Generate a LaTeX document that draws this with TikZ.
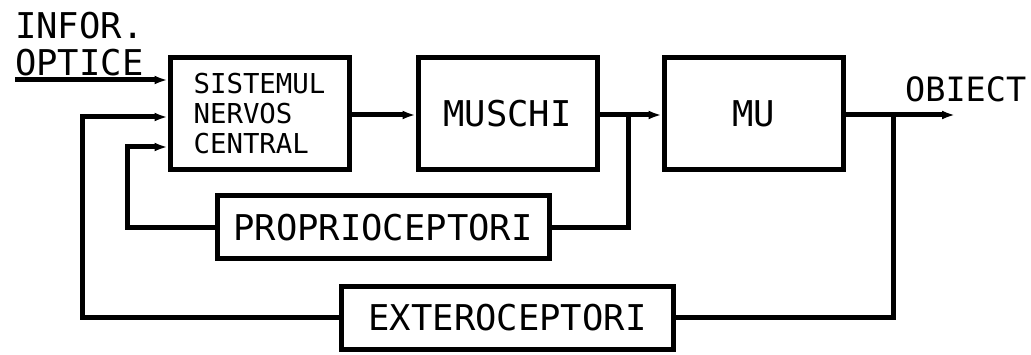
\documentclass[tikz,border=0pt]{standalone}
\usepackage{fontspec}
\newfontfamily\diagfont{DejaVu Sans Mono}
\newcommand{\bigtxt}{\diagfont\fontsize{35.5}{37}\selectfont}
\newcommand{\smalltxt}{\diagfont\fontsize{27.4}{30}\selectfont}
\usetikzlibrary{positioning, arrows.meta, calc}

\begin{document}
\begin{tikzpicture}
    [
        x=1pt, y=-1pt,
        on grid,
        node distance=248pt,
        block/.style={draw, rectangle, line width=5pt, minimum width=179pt, minimum height=112pt, inner sep=0pt, font=\bigtxt},
        sensor/.style={draw, rectangle, line width=5pt, minimum width=332pt, minimum height=63pt, inner sep=0pt, font=\bigtxt},
        tag/.style={inner sep=0pt, font=\bigtxt, align=left},
        link/.style={line width=5pt},
        flow/.style={line width=5pt, -{Latex[length=13pt, width=9pt]}}
    ]
        \useasboundingbox (0,0) rectangle (1031,355);
        % =========================================================================
        % NODES
        % =========================================================================
        % --- Main row ---
        \node [block, font=\smalltxt, align=left] (snc) at (259.5,114) {SISTEMUL\\NERVOS\\CENTRAL};
        \node [block, right=of snc] (muschi) {MUSCHI};
        \node [block, right=246pt of muschi] (mu) {MU};
        % --- Feedback row ---
        \node [sensor] (proprio) at (383,227.5) {PROPRIOCEPTORI};
        \node [sensor, below=204pt of muschi] (extero) {EXTEROCEPTORI};
        % --- Texts and free ends ---
        \node [tag, anchor=south west] (info) at (15,76) {INFOR.\\OPTICE};
        \coordinate (inp) at (15,80);
        \coordinate (out) at (955,115);
        \node [tag, anchor=base west, font=\diagfont\fontsize{33.5}{35}\selectfont] (obiect) at (905,102) {OBIECT};
        % --- Branch points and corners ---
        \coordinate (j1) at (628,115);
        \coordinate (j2) at (893,115);
        \coordinate (fbOuter) at (82,117);
        \coordinate (fbInner) at (127,147);

        % =========================================================================
        % PATHS
        % =========================================================================
        % --- FORWARD ---
        \draw [flow] (inp) -- (inp -| snc.west);
        \draw [flow] (snc.east |- j1) -- (muschi.west |- j1);
        \draw [flow] (muschi.east |- j1) -- (mu.west |- j1);
        \draw [flow] (mu.east |- j2) -- (out);
        % --- FEEDBACK ---
        \draw [link] (j1) |- (proprio.east);
        \draw [flow] (proprio.west) -| (fbInner) -- (fbInner -| snc.west);
        \draw [link] (j2) |- (extero.east);
        \draw [flow] (extero.west) -| (fbOuter) -- (fbOuter -| snc.west);

    \end{tikzpicture}
\end{document}
